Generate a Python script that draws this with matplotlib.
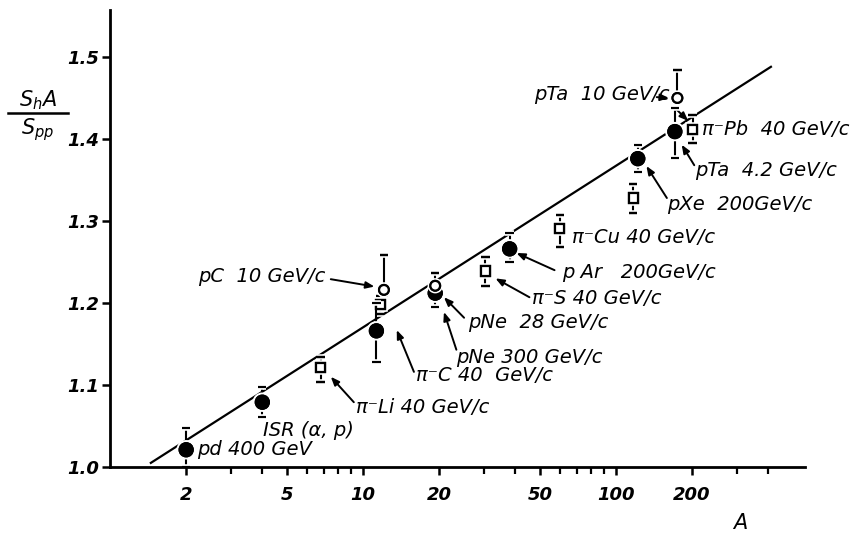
import matplotlib
matplotlib.use('Agg')
import matplotlib.pyplot as plt
from matplotlib import patheffects as pe
from matplotlib.ticker import FixedLocator, NullFormatter

plt.rcParams['font.family'] = ['DejaVu Sans']
plt.rcParams['mathtext.fontset'] = 'dejavusans'

# filled circles: pd, ISR, pC(?), pNe 300, pAr, pXe, pTa 4.2
fc_A = [2.0, 4.0, 11.3, 19.3, 38.0, 122.0, 171.0]
fc_y = [1.021, 1.079, 1.166, 1.212, 1.266, 1.376, 1.409]
fc_lo = [0.021, 0.018, 0.038, 0.017, 0.016, 0.016, 0.032]
fc_hi = [0.027, 0.019, 0.034, 0.004, 0.019, 0.017, 0.029]

# open circles: pC 10, pNe 28, pTa 10
oc_A = [12.1, 19.3, 175.0]
oc_y = [1.216, 1.221, 1.450]
oc_lo = [0.006, 0.004, 0.004]
oc_hi = [0.043, 0.016, 0.034]

# open squares: pi- Li, C, S, Cu, (unlabelled), Pb
sq_A = [6.8, 11.7, 30.5, 60.0, 117.0, 201.0]
sq_y = [1.121, 1.198, 1.239, 1.291, 1.328, 1.411]
sq_lo = [0.017, 0.012, 0.018, 0.023, 0.018, 0.016]
sq_hi = [0.013, 0.010, 0.017, 0.016, 0.017, 0.018]

# fitted line
line_A = [1.45, 410.0]
line_y = [1.005, 1.488]

x_major = [2, 5, 10, 20, 50, 100, 200]
x_minor = [3, 4, 6, 7, 8, 9, 30, 40, 60, 70, 80, 90, 300, 400]
y_ticks = [1.0, 1.1, 1.2, 1.3, 1.4, 1.5]
y_ticklabels = ['1.0', '1.1', '1.2', '1.3', '1.4', '1.5']

# labels: text, (A, y) of text left/centre
labels = [
    ('pd 400 GeV', (2.21, 1.021)),
    ('ISR (α, p)', (4.04, 1.045)),
    ('π⁻Li 40 GeV/c', (9.37, 1.072)),
    ('π⁻C 40  GeV/c', (16.2, 1.112)),
    ('pNe 300 GeV/c', (23.4, 1.133)),
    ('pNe  28 GeV/c', (26.1, 1.176)),
    ('π⁻S 40 GeV/c', (46.4, 1.206)),
    ('p Ar   200GeV/c', (61.0, 1.237)),
    ('π⁻Cu 40 GeV/c', (66.8, 1.280)),
    ('pXe  200GeV/c', (159.0, 1.320)),
    ('pTa  4.2 GeV/c', (206.0, 1.362)),
    ('π⁻Pb  40 GeV/c', (219.0, 1.411)),
    ('pTa  10 GeV/c', (47.6, 1.454)),
    ('pC  10 GeV/c', (2.23, 1.232)),
]

# arrows: start -> end
arrows = [
    ((7.46, 1.229), (11.1, 1.220)),
    ((15.9, 1.116), (13.6, 1.167)),
    ((9.2, 1.079), (7.46, 1.110)),
    ((23.4, 1.143), (20.9, 1.189)),
    ((25.1, 1.182), (20.9, 1.207)),
    ((45.5, 1.207), (33.4, 1.230)),
    ((57.2, 1.240), (40.4, 1.261)),
    ((159.0, 1.328), (132.0, 1.367)),
    ((204.0, 1.368), (182.0, 1.393)),
    ((145.0, 1.451), (162.0, 1.450)),
    ((171.0, 1.438), (193.0, 1.422)),
]

fig = plt.figure(figsize=(8.63, 5.38), dpi=100)
ax = fig.add_axes([0.1275, 0.132, 0.8055, 0.849])
ax.set_xscale('log')
ax.set_xlim(1.0, 560)
ax.set_ylim(1.0, 1.557)

halo = [pe.withStroke(linewidth=4, foreground='white')]

ax.plot(line_A, line_y, color='black', lw=1.6, zorder=1)

ebkw = dict(ecolor='black', elinewidth=1.5, capsize=3, capthick=1.5, linestyle='none')
ax.errorbar(sq_A, sq_y, yerr=[sq_lo, sq_hi], fmt='s', ms=6.5, mfc='white', mec='black', mew=1.6,
            zorder=3, **ebkw)
ax.errorbar(fc_A, fc_y, yerr=[fc_lo, fc_hi], fmt='o', ms=10, mfc='black', mec='black',
            zorder=4, **ebkw)
ax.errorbar(oc_A, oc_y, yerr=[oc_lo, oc_hi], fmt='o', ms=7, mfc='white', mec='black', mew=1.6,
            zorder=5, **ebkw)
for ln in ax.lines[1:]:
    ln.set_path_effects(halo + [pe.Normal()])

for txt, pos in labels:
    ax.text(pos[0], pos[1], txt, fontsize=14, style='italic', ha='left', va='center')

for start, end in arrows:
    ax.annotate('', xy=end, xytext=start,
                arrowprops=dict(arrowstyle='-|>,head_length=0.5,head_width=0.2',
                                color='black', lw=1.4, shrinkA=0, shrinkB=0))

for s in ['top', 'right']:
    ax.spines[s].set_visible(False)
for s in ['left', 'bottom']:
    ax.spines[s].set_linewidth(2)

ax.xaxis.set_major_locator(FixedLocator(x_major))
ax.xaxis.set_minor_locator(FixedLocator(x_minor))
ax.xaxis.set_minor_formatter(NullFormatter())
ax.set_xticklabels([str(v) for v in x_major], fontsize=13, style='italic', weight='bold')
ax.set_yticks(y_ticks)
ax.set_yticklabels(y_ticklabels, fontsize=13, style='italic', weight='bold')
ax.tick_params(axis='both', which='major', direction='out', length=6, width=1.8)
ax.tick_params(axis='x', which='minor', direction='out', length=5, width=1.6)
ax.tick_params(axis='x', which='major', pad=8)
ax.tick_params(axis='y', which='major', pad=2)

# axis titles
fig.text(740 / 863, 1 - 523 / 538, 'A', fontsize=15, style='italic', ha='center', va='center')
fig.text(38 / 863, 1 - 100 / 538, r'$S_{h}A$', fontsize=15, ha='center', va='center')
fig.add_artist(plt.Line2D([8 / 863, 68 / 863], [1 - 113 / 538, 1 - 113 / 538],
                          color='black', lw=1.8))
fig.text(38 / 863, 1 - 130 / 538, r'$S_{pp}$', fontsize=15, ha='center', va='center')

fig.savefig('out.png', dpi=100)
